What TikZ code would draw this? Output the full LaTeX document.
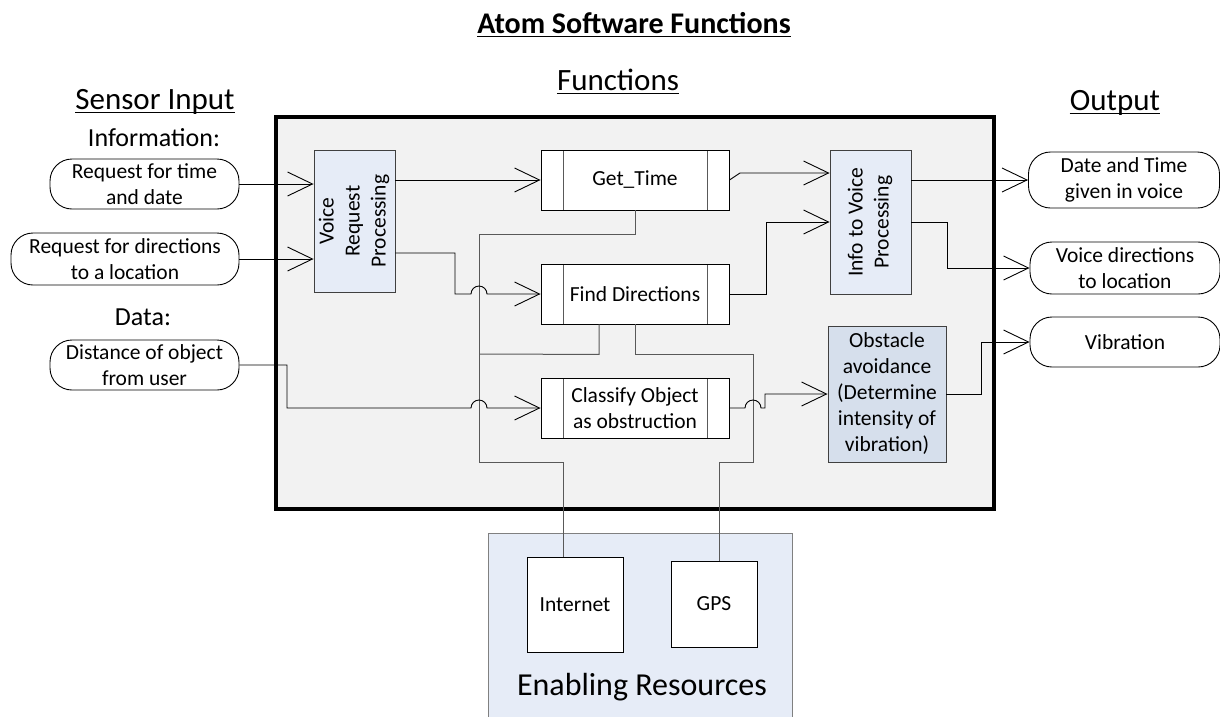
\documentclass[tikz,border=0pt]{standalone}
\usepackage{fontspec}
\setmainfont{Carlito}
\usetikzlibrary{arrows.meta,calc}
\definecolor{bigfill}{HTML}{F2F2F2}
\definecolor{lblue}{HTML}{E6ECF7}
\definecolor{oblue}{HTML}{D6DFEC}
\definecolor{resline}{HTML}{595959}
\definecolor{boxedge}{HTML}{404040}
\begin{document}
\begin{tikzpicture}[x=1pt,y=-1pt,
  txt/.style={font=\fontsize{21.5}{26}\selectfont, align=center},
  term/.style={txt, draw, line width=0.9pt, rounded corners=22pt, fill=white, inner sep=0pt},
  proc/.style={txt, draw, line width=0.9pt, fill=white, minimum width=188pt, minimum height=60pt, inner sep=0pt,
    path picture={\draw[line width=0.9pt, gray!70!black]
      ([xshift=22pt]path picture bounding box.north west) -- ([xshift=22pt]path picture bounding box.south west)
      ([xshift=-22pt]path picture bounding box.north east) -- ([xshift=-22pt]path picture bounding box.south east);}},
  bluebox/.style={txt, draw=boxedge, fill=lblue, line width=0.9pt, inner sep=0pt},
  resbox/.style={txt, draw, line width=0.9pt, fill=white, inner sep=0pt},
  conn/.style={line width=0.9pt, -{Straight Barb[length=25pt,width=24pt]}},
  res/.style={line width=1pt, draw=resline},
  hdr/.style={font=\fontsize{31}{37}\selectfont, inner sep=0pt, anchor=base},
  sub/.style={font=\fontsize{26}{31}\selectfont, inner sep=0pt, anchor=base},
  uline/.style={line width=1.3pt}
]
\useasboundingbox[fill=white] (0,0) rectangle (1220,716);

% headings
\node[font=\bfseries\fontsize{30}{36}\selectfont, inner sep=0pt, anchor=base] (title) at (634,33) {Atom Software Functions};
\draw[uline, line width=1.6pt] ([yshift=-3.5pt]title.base west) -- ([yshift=-3.5pt]title.base east);
\node[hdr] (hfun) at (618,90) {Functions};
\draw[uline] ([yshift=-3.5pt]hfun.base west) -- ([yshift=-3.5pt]hfun.base east);
\node[hdr] (hsen) at (155,109) {Sensor Input};
\draw[uline] ([yshift=-3.5pt]hsen.base west) -- ([yshift=-3.5pt]hsen.base east);
\node[hdr] (hout) at (1115,110) {Output};
\draw[uline] ([yshift=-3.5pt]hout.base west) -- ([yshift=-3.5pt]hout.base east);
\node[sub] (hinf) at (154,146) {Information:};
\node[sub] (hdat) at (143,325) {Data:};

% containers
\node[draw, line width=4pt, fill=bigfill, minimum width=718pt, minimum height=392pt, inner sep=0pt] (fbox) at (635,313) {};
\node[draw=gray, fill=lblue, line width=1pt, minimum width=304pt, minimum height=192pt, inner sep=0pt, anchor=north west] (enab) at (488,533) {};
\node[font=\fontsize{32}{38}\selectfont, inner sep=0pt, anchor=base] (entxt) at (642,695) {Enabling Resources};
\node[resbox, minimum width=96pt, minimum height=95pt] (inet) at (575,604.5) {Internet};
\node[resbox, minimum width=86pt, minimum height=86pt] (gps) at (714,604) {GPS};

% inputs
\node[term, minimum width=189pt, minimum height=50pt] (in1) at (144.5,184) {Request for time\\and date};
\node[term, minimum width=228pt, minimum height=52pt] (in2) at (125,259) {Request for directions\\to a location};
\node[term, minimum width=189pt, minimum height=50pt] (in3) at (144.5,365) {Distance of object\\from user};

% outputs
\node[term, minimum width=191pt, minimum height=56pt] (out1) at (1124,180) {Date and Time\\given in voice};
\node[term, minimum width=190pt, minimum height=52pt] (out2) at (1125,268) {Voice directions\\to location};
\node[term, minimum width=190pt, minimum height=50pt] (out3) at (1125,342) {Vibration};

% function boxes
\node[bluebox, minimum width=81pt, minimum height=142pt] (vrp) at (354.5,221)
  {\rotatebox{90}{\begin{tabular}{@{}c@{}}Voice\\Request\\Processing\end{tabular}}};
\node[proc] (gt) at (635,180) {Get\_Time};
\node[proc] (fd) at (635,294) {Find Directions};
\node[proc] (co) at (635,408) {Classify Object\\as obstruction};
\node[bluebox, minimum width=81pt, minimum height=144pt] (ivp) at (870.5,222)
  {\rotatebox{90}{\begin{tabular}{@{}c@{}}Info to Voice\\Processing\end{tabular}}};
\node[bluebox, fill=oblue, minimum width=118pt, minimum height=136pt] (oa) at (887,394)
  {Obstacle\\avoidance\\(Determine\\intensity of\\vibration)};

% resource lines
\coordinate (bi) at (563,462);
\coordinate (bg) at (719,462);
\draw[res] (gt.south) -- (635,234) -- (479,234) -- (479,462) -- (bi) -- (bi |- inet.north);
\draw[res] ([xshift=-36pt]fd.south) -- ++(0,30) -- (479,354);
\draw[res] (fd.south) -- (635,354) -- (753,354) -- (753,462) -- (bg) -- (bg |- gps.north);

% connectors
\draw[conn] (in1.east) -- (in1.east -| vrp.west);
\draw[conn] (in2.east) -- (in2.east -| vrp.west);
\draw[conn] (in3.east) -- (287,365) -- (287,408) -- (471,408) arc[start angle=180,end angle=360,radius=8] -- (co.west);
\draw[conn] (vrp.east |- gt.west) -- (gt.west);
\draw[conn] (vrp.east |- 0,253) -- (455,253) -- (455,294) -- (471,294) arc[start angle=180,end angle=360,radius=8] -- (fd.west);
\draw[conn] (gt.east) -- (740,173) -- (ivp.west |- 0,173);
\draw[conn] (fd.east) -- (766,294) -- (766,222) -- (ivp.west |- 0,222);
\draw[conn] (ivp.east |- out1.west) -- (out1.west);
\draw[conn] (ivp.east |- 0,222) -- (947,222) -- (947,268) -- (out2.west);
\draw[conn] (co.east) -- (745,408) arc[start angle=180,end angle=360,radius=8] -- (765,408) -- (765,394) -- (oa.west);
\draw[conn] (oa.east) -- (981,394) -- (981,342) -- (out3.west);
\end{tikzpicture}
\end{document}
